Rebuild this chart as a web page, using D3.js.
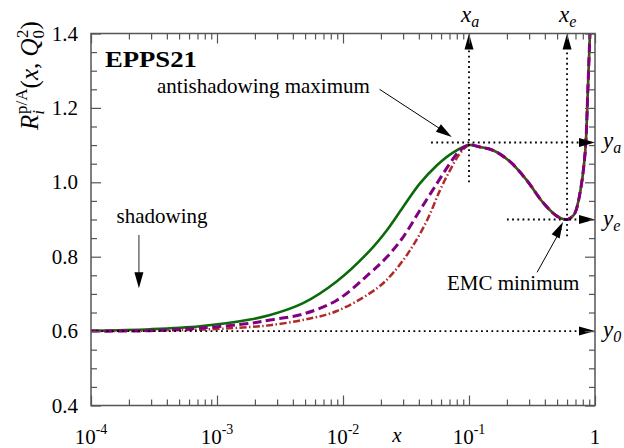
<!DOCTYPE html>
<html><head><meta charset="utf-8">
<script src="https://cdn.jsdelivr.net/npm/d3@7"></script>
<style>
body{margin:0;background:#fff}
svg text{font-family:"Liberation Serif","DejaVu Serif","Times New Roman",Times,serif;fill:#000}
</style>
</head><body>
<svg id="chart" width="624" height="448" font-family="Liberation Serif, DejaVu Serif, serif"></svg>
<script>
// ---------- data ----------
const xTickValues = [1e-4, 1e-3, 1e-2, 1e-1, 1];
const xTickBase = ["10", "10", "10", "10", "1"];
const xTickExp = ["-4", "-3", "-2", "-1", ""];
const yTickValues = [0.4, 0.6, 0.8, 1.0, 1.2, 1.4];
const yTickLabels = ["0.4", "0.6", "0.8", "1.0", "1.2", "1.4"];

// x < xa branches
const greenX = [1e-4, 2.94e-4, 7.33e-4, 1.83e-3, 2.64e-3, 4.82e-3, 8.95e-3, 0.0164, 0.0223, 0.0299, 0.0408, 0.0557, 0.0746, 0.1];
const greenY = [0.601, 0.605, 0.613, 0.631, 0.643, 0.675, 0.734, 0.817, 0.871, 0.933, 0.997, 1.046, 1.080, 1.100];
const purpleX = [1e-4, 2.94e-4, 7.33e-4, 1.83e-3, 2.64e-3, 4.82e-3, 8.95e-3, 0.0164, 0.0223, 0.0299, 0.0408, 0.0557, 0.0706, 0.0849, 0.1];
const purpleY = [0.600, 0.601, 0.608, 0.621, 0.630, 0.646, 0.683, 0.756, 0.799, 0.852, 0.925, 0.997, 1.051, 1.086, 1.100];
const brownX = [1e-4, 7.33e-4, 1.83e-3, 2.64e-3, 4.82e-3, 8.95e-3, 0.0186, 0.0249, 0.0340, 0.0465, 0.0589, 0.0706, 0.0849, 0.1];
const brownY = [0.600, 0.604, 0.611, 0.616, 0.630, 0.654, 0.715, 0.756, 0.817, 0.898, 0.979, 1.032, 1.078, 1.100];
// shared branch x > xa
const commonX = [0.122, 0.155, 0.211, 0.288, 0.386, 0.499, 0.6, 0.65, 0.693, 0.760, 0.834, 0.879, 0.912, 0.946];
const commonY = [1.095, 1.086, 1.056, 1.005, 0.946, 0.909, 0.900, 0.906, 0.917, 0.971, 1.078, 1.255, 1.400, 1.516];

// reference points
const xa = 0.1, xe = 0.6;
const yaLine = 1.107, ye = 0.9, y0 = 0.6;

// ---------- setup ----------
const FONT = "Liberation Serif, DejaVu Serif, Times New Roman, serif";
const svg = d3.select("#chart");
const L = 91, R = 595, T = 33.5, B = 405.5;
const x = d3.scaleLog().domain([1e-4, 1]).range([L, R]);
const y = d3.scaleLinear().domain([0.4, 1.4]).range([B, T]);

svg.append("defs").append("clipPath").attr("id", "clip")
  .append("rect").attr("x", L).attr("y", T).attr("width", R - L).attr("height", B - T);

function txt(px, py, size) {
  return svg.append("text").attr("x", px).attr("y", py).attr("font-size", size)
    .attr("font-family", FONT).attr("fill", "#000");
}

// ---------- curves ----------
const line = d3.line().x(d => x(d[0])).y(d => y(d[1])).curve(d3.curveCatmullRom.alpha(0.5));
function series(xs, ys) {
  return xs.map((v, i) => [v, ys[i]]).concat(commonX.map((v, i) => [v, commonY[i]]));
}
const gCurves = svg.append("g").attr("clip-path", "url(#clip)");
gCurves.append("path").datum(series(greenX, greenY)).attr("d", line)
  .attr("fill", "none").attr("stroke", "#0b6b0b").attr("stroke-width", 2.6);
gCurves.append("path").datum(series(brownX, brownY)).attr("d", line)
  .attr("fill", "none").attr("stroke", "#b02a2a").attr("stroke-width", 2.5)
  .attr("stroke-dasharray", "7,2.5,1.5,2.5");
gCurves.append("path").datum(series(purpleX, purpleY)).attr("d", line)
  .attr("fill", "none").attr("stroke", "#800080").attr("stroke-width", 3)
  .attr("stroke-dasharray", "9,4.5");

// ---------- dotted guides with arrowheads ----------
function arrowHead(tx, ty, dx, dy, len = 16, hw = 4.5) {
  const n = Math.hypot(dx, dy); const ux = dx / n, uy = dy / n;
  const bx = tx - ux * len, by = ty - uy * len;
  const px = -uy * hw, py = ux * hw;
  svg.append("path")
    .attr("d", `M${tx},${ty}L${bx + px},${by + py}L${bx - px},${by - py}Z`)
    .attr("fill", "#000");
}
function dotted(x1, y1, x2, y2) {
  svg.append("line").attr("x1", x1).attr("y1", y1).attr("x2", x2).attr("y2", y2)
    .attr("stroke", "#000").attr("stroke-width", 1.8).attr("stroke-dasharray", "1.8,3.4");
}
dotted(x(xa), y(1.0), x(xa), y(1.4) + 16); arrowHead(x(xa), y(1.4), 0, -1);
dotted(x(xe), y(0.855), x(xe), y(1.4) + 16); arrowHead(x(xe), y(1.4), 0, -1);
dotted(x(0.05), y(yaLine), x(1) - 16, y(yaLine)); arrowHead(x(1), y(yaLine), 1, 0);
dotted(x(0.2), y(ye), x(1) - 16, y(ye)); arrowHead(x(1), y(ye), 1, 0);
dotted(x(1e-4), y(y0), x(1) - 16, y(y0)); arrowHead(x(1), y(y0), 1, 0);

// ---------- frame + ticks ----------
const axisColor = "#555";
const yMinor = d3.range(0.4, 1.4001, 0.05).map(v => +v.toFixed(2));
const xMinor = [];
[-4, -3, -2, -1].forEach(e => { for (let k = 2; k <= 9; k++) xMinor.push(k * Math.pow(10, e)); });
function styleAxis(g) { g.select(".domain").remove(); g.selectAll("line").attr("stroke", axisColor).attr("stroke-width", 1.2); }
function isMajorY(v) { return yTickValues.some(t => Math.abs(t - v) < 1e-6); }
const yMinorOnly = yMinor.filter(v => !isMajorY(v));

svg.append("g").attr("transform", `translate(${L},0)`)
  .call(d3.axisLeft(y).tickValues(yMinorOnly).tickSize(-6).tickFormat("")).call(styleAxis);
svg.append("g").attr("transform", `translate(${L},0)`)
  .call(d3.axisLeft(y).tickValues(yTickValues).tickSize(-10).tickFormat("")).call(styleAxis);
svg.append("g").attr("transform", `translate(${R},0)`)
  .call(d3.axisRight(y).tickValues(yMinorOnly).tickSize(-6).tickFormat("")).call(styleAxis);
svg.append("g").attr("transform", `translate(${R},0)`)
  .call(d3.axisRight(y).tickValues(yTickValues).tickSize(-10).tickFormat("")).call(styleAxis);
svg.append("g").attr("transform", `translate(0,${B})`)
  .call(d3.axisBottom(x).tickValues(xMinor).tickSize(-6).tickFormat("")).call(styleAxis);
svg.append("g").attr("transform", `translate(0,${B})`)
  .call(d3.axisBottom(x).tickValues(xTickValues).tickSize(-10).tickFormat("")).call(styleAxis);
svg.append("g").attr("transform", `translate(0,${T})`)
  .call(d3.axisTop(x).tickValues(xMinor).tickSize(-6).tickFormat("")).call(styleAxis);
svg.append("g").attr("transform", `translate(0,${T})`)
  .call(d3.axisTop(x).tickValues(xTickValues).tickSize(-10).tickFormat("")).call(styleAxis);
svg.append("rect").attr("x", L).attr("y", T).attr("width", R - L).attr("height", B - T)
  .attr("fill", "none").attr("stroke", axisColor).attr("stroke-width", 1.5);

// ---------- tick labels ----------
yTickValues.forEach((v, i) => {
  txt(L - 13, y(v) + 7, 21).attr("text-anchor", "end").text(yTickLabels[i]);
});
xTickValues.forEach((v, i) => {
  const t = txt(x(v), 444, 21).attr("text-anchor", "middle");
  t.append("tspan").text(xTickBase[i]);
  if (xTickExp[i]) t.append("tspan").attr("dy", -10).attr("font-size", 14).text(xTickExp[i]);
});
txt(x(0.0268), 442, 21).attr("text-anchor", "middle").attr("font-style", "italic").text("x");

// ---------- y axis title ----------
const yt = svg.append("text").attr("transform", `translate(38,${y(1.287)}) rotate(-90)`)
  .attr("text-anchor", "middle").attr("font-size", 25).attr("font-family", FONT);
yt.append("tspan").attr("font-style", "italic").text("R");
yt.append("tspan").attr("font-style", "italic").attr("font-size", 17).attr("dy", 6).text("i");
yt.append("tspan").attr("font-size", 17).attr("dx", -4).attr("dy", -17).text("p/A");
yt.append("tspan").attr("dy", 11).text("(");
yt.append("tspan").attr("font-style", "italic").text("x");
yt.append("tspan").text(", ");
yt.append("tspan").attr("font-style", "italic").text("Q");
yt.append("tspan").attr("font-size", 17).attr("dy", 6).text("0");
yt.append("tspan").attr("font-size", 17).attr("dx", -8).attr("dy", -16).text("2");
yt.append("tspan").attr("dy", 10).text(")");

// ---------- reference labels ----------
function subLabel(px, py, main, sub) {
  const t = txt(px, py, 23).attr("font-style", "italic");
  t.append("tspan").text(main);
  t.append("tspan").attr("font-size", 16).attr("dy", 5).text(sub);
  return t;
}
subLabel(x(xa) - 8, 22, "x", "a");
subLabel(x(xe) - 8, 22, "x", "e");
subLabel(R + 8, y(yaLine) + 6, "y", "a");
subLabel(R + 8, y(ye) + 6, "y", "e");
subLabel(R + 8, y(y0) + 6, "y", "0");

// ---------- annotations ----------
txt(x(1.29e-4), y(1.309), 23).attr("font-weight", "bold")
  .attr("textLength", 92).attr("lengthAdjust", "spacingAndGlyphs").text("EPPS21");
txt(x(3.34e-4), y(1.239), 21).text("antishadowing maximum");
svg.append("line").attr("x1", x(0.0195)).attr("y1", y(1.250))
  .attr("x2", x(0.0730) - 10).attr("y2", y(1.122) - 7)
  .attr("stroke", "#000").attr("stroke-width", 1);
arrowHead(x(0.0730), y(1.122), x(0.0730) - x(0.0195), y(1.122) - y(1.250), 16, 4.5);

txt(x(3.66e-4), y(0.890), 21).attr("text-anchor", "middle").text("shadowing");
svg.append("line").attr("x1", x(2.4e-4)).attr("y1", y(0.858)).attr("x2", x(2.4e-4)).attr("y2", y(0.715) - 10)
  .attr("stroke", "#666").attr("stroke-width", 1.4);
arrowHead(x(2.4e-4), y(0.715), 0, 1, 16, 4.5);

txt(x(0.0668), y(0.710), 21).text("EMC minimum");
svg.append("line").attr("x1", x(0.347)).attr("y1", y(0.758)).attr("x2", x(0.54)).attr("y2", y(0.875))
  .attr("stroke", "#000").attr("stroke-width", 1);
arrowHead(x(0.557), y(0.893), x(0.557) - x(0.347), y(0.893) - y(0.758), 16, 4.5);
</script>
</body></html>
